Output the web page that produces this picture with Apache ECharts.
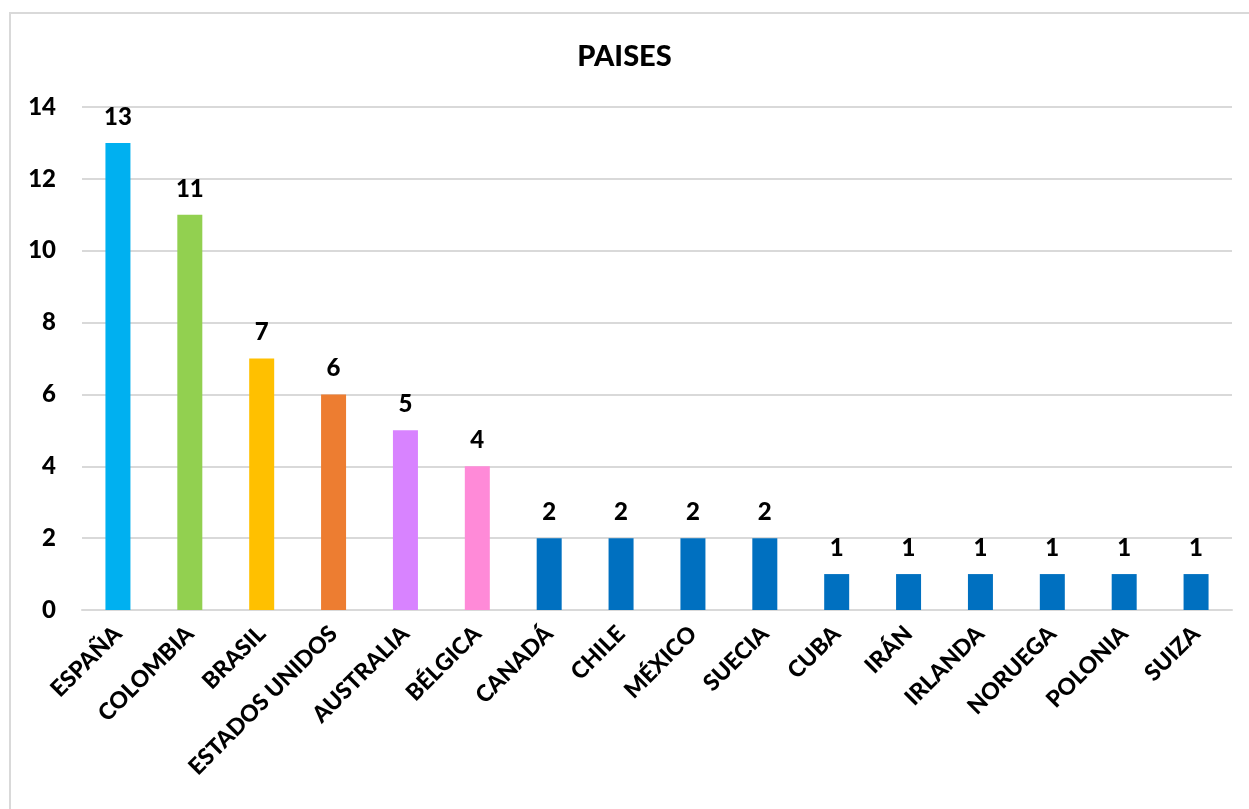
<!DOCTYPE html>
<html>
<head>
<meta charset="utf-8">
<script src="https://cdn.jsdelivr.net/npm/echarts@6/dist/echarts.min.js"></script>
<style>
html,body{margin:0;padding:0;background:#fff;overflow:hidden;}
#frame{position:absolute;left:9px;top:12px;width:1300px;height:900px;border:2px solid #d9d9d9;box-sizing:border-box;}
#chart{position:absolute;left:0;top:0;width:1249px;height:809px;}
</style>
</head>
<body>
<div id="frame"></div>
<div id="chart"></div>
<script>
const categories = ["ESPAÑA","COLOMBIA","BRASIL","ESTADOS UNIDOS","AUSTRALIA","BÉLGICA","CANADÁ","CHILE","MÉXICO","SUECIA","CUBA","IRÁN","IRLANDA","NORUEGA","POLONIA","SUIZA"];
const values = [13,11,7,6,5,4,2,2,2,2,1,1,1,1,1,1];
const barColors = ["#00B0F0","#92D050","#FFC000","#ED7D31","#D883FF","#FF8AD8","#0070C0","#0070C0","#0070C0","#0070C0","#0070C0","#0070C0","#0070C0","#0070C0","#0070C0","#0070C0"];
const titleText = "PAISES";

const FONT = "Lato, 'Open Sans', sans-serif";
const chart = echarts.init(document.getElementById('chart'));
chart.setOption({
  animation: false,
  backgroundColor: 'transparent',
  title: {
    text: titleText,
    left: 'center',
    top: 37,
    textStyle: {fontFamily: FONT, fontWeight: 900, fontSize: 29, color: '#000'}
  },
  grid: {left: 82, right: 17, top: 107, bottom: 199, containLabel: false},
  xAxis: {
    type: 'category',
    data: categories,
    axisLine: {show: true, lineStyle: {color: '#d9d9d9', width: 2}},
    axisTick: {show: false},
    axisLabel: {
      interval: 0,
      rotate: 45,
      margin: 20,
      fontFamily: FONT,
      fontWeight: 900,
      fontSize: 23,
      color: '#000'
    }
  },
  yAxis: {
    type: 'value',
    min: 0,
    max: 14,
    interval: 2,
    axisLine: {show: false},
    axisTick: {show: false},
    splitLine: {lineStyle: {color: '#d9d9d9', width: 2}},
    axisLabel: {
      margin: 26,
      fontFamily: FONT,
      fontWeight: 900,
      fontSize: 24,
      color: '#000'
    }
  },
  series: [{
    type: 'bar',
    data: values.map((v, i) => ({value: v, itemStyle: {color: barColors[i]}})),
    barWidth: 25,
    label: {
      show: true,
      position: 'top',
      distance: 14,
      fontFamily: FONT,
      fontWeight: 900,
      fontSize: 24,
      color: '#000'
    }
  }]
});
</script>
</body>
</html>
